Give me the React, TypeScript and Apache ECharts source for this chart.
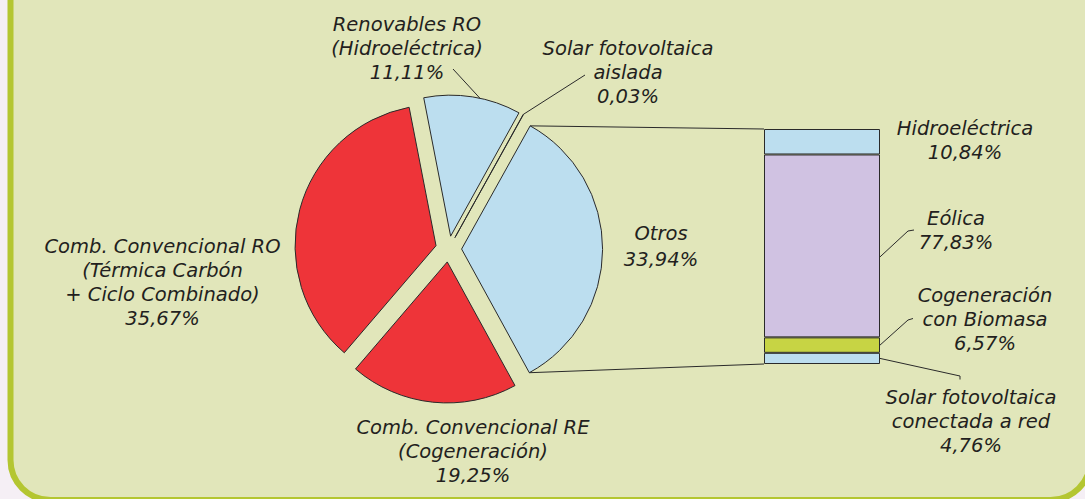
import React, { useEffect, useRef } from 'react';
import * as echarts from 'echarts';

// ---- data ----
const pieNames = [
  'Renovables RO\n(Hidroeléctrica)',
  'Solar fotovoltaica\naislada',
  'Otros',
  'Comb. Convencional RE\n(Cogeneración)',
  'Comb. Convencional RO\n(Térmica Carbón\n+ Ciclo Combinado)',
];
const pieValues = [11.11, 0.03, 33.94, 19.25, 35.67];

const barNames = [
  'Solar fotovoltaica\nconectada a red',
  'Cogeneración\ncon Biomasa',
  'Eólica',
  'Hidroeléctrica',
];
const barValues = [4.76, 6.57, 77.83, 10.84];

// ---- styles ----
const pieColors = ['#bcdeef', '#bcdeef', '#bcdeef', '#ee3439', '#ee3439'];
const barColors = ['#bcdeef', '#c7d444', '#d0c2e2', '#bcdeef'];
const TEXT = '#231f20';
const FONT = '"DejaVu Sans", "Open Sans", sans-serif';
const FS = 19.5;
const LH = 24;

// ---- layout ----
const PIE_CX = 448.6;
const PIE_CY = 249;
const PIE_R = 141;
const PIE_OFF = 13;
const START = 101;
const GRID = { left: 764, top: 129, width: 116, height: 235 };

// label anchors (center x, center y of first line, line height)
const pieLabelPos = [
  [407, 24, LH],
  [628, 48, LH],
  [661, 233, 26],
  [473, 427, LH],
  [162.5, 246, LH],
];
const barLabelPos = [
  [971, 397],
  [985, 295],
  [956, 218],
  [965, 128],
];

const fmt = (v: number) => v.toFixed(2).replace('.', ',') + '%';

export default function App() {
  const ref = useRef<HTMLDivElement>(null);
  useEffect(() => {
    const el = ref.current!;
    const chart = echarts.init(el, null, { renderer: 'svg' });
    const total = pieValues.reduce((a, b) => a + b, 0);

    chart.setOption({
      animation: false,
      backgroundColor: '#f5eff5',
      grid: { ...GRID },
      xAxis: { type: 'category', data: ['Otros'], show: false },
      yAxis: { type: 'value', min: 0, max: 100, show: false },
      series: [
        {
          type: 'pie',
          center: [PIE_CX, PIE_CY],
          radius: PIE_R,
          startAngle: START,
          clockwise: true,
          selectedMode: 'multiple',
          selectedOffset: PIE_OFF,
          avoidLabelOverlap: false,
          label: { show: false },
          labelLine: { show: false },
          emphasis: { disabled: true },
          select: { itemStyle: { borderColor: '#2a2a2a', borderWidth: 1 } },
          itemStyle: { borderColor: '#2a2a2a', borderWidth: 1 },
          data: pieValues.map((v, i) => ({
            name: pieNames[i],
            value: v,
            selected: true,
            itemStyle: { color: pieColors[i] },
            select: { itemStyle: { color: pieColors[i] } },
          })),
        },
        ...barValues.map((v, i) => ({
          type: 'bar',
          name: barNames[i],
          stack: 'otros',
          barWidth: '100%',
          data: [v],
          emphasis: { disabled: true },
          itemStyle: { color: barColors[i], borderColor: '#2a2a2a', borderWidth: 1 },
        })),
      ],
    });

    // pie geometry helpers
    const cum: number[] = [];
    let acc = 0;
    pieValues.forEach((v) => {
      cum.push(acc);
      acc += v;
    });
    const angOf = (f: number) => ((START - (360 * f) / total) * Math.PI) / 180;
    const slicePoint = (i: number, frac: number, r: number) => {
      const mid = angOf(cum[i] + pieValues[i] / 2);
      const a = angOf(cum[i] + pieValues[i] * frac);
      return [
        PIE_CX + PIE_OFF * Math.cos(mid) + r * Math.cos(a),
        PIE_CY - PIE_OFF * Math.sin(mid) - r * Math.sin(a),
      ];
    };
    const yPix = (v: number) => chart.convertToPixel({ yAxisIndex: 0 }, v) as number;
    const barLeft = GRID.left;
    const barRight = GRID.left + GRID.width;
    const bcum: number[] = [];
    let bacc = 0;
    barValues.forEach((v) => {
      bcum.push(bacc);
      bacc += v;
    });
    const barY = (i: number, frac: number) => yPix(bcum[i] + barValues[i] * frac);

    const lineStyle = { stroke: '#2a2a2a', lineWidth: 1, fill: null };
    const mkText = (text: string, x: number, y: number, lh: number) => ({
      type: 'text',
      z: 100,
      style: {
        text,
        x,
        y: y - lh / 2,
        align: 'center',
        verticalAlign: 'top',
        textAlign: 'center',
        textVerticalAlign: 'top',
        fontStyle: 'italic',
        fontSize: FS,
        fontFamily: FONT,
        lineHeight: lh,
        fill: TEXT,
      },
    });
    const texts: any[] = [];
    pieNames.forEach((n, i) => {
      const [x, y, lh] = pieLabelPos[i];
      texts.push(mkText(n + '\n' + fmt(pieValues[i]), x, y, lh));
    });
    barNames.forEach((n, i) => {
      const [x, y] = barLabelPos[i];
      texts.push(mkText(n + '\n' + fmt(barValues[i]), x, y, LH));
    });

    const otrosTop = slicePoint(2, 0, PIE_R);
    const otrosBot = slicePoint(2, 1, PIE_R);
    const renovPt = slicePoint(0, 0.575, PIE_R);
    const solarPt = slicePoint(1, 0.5, PIE_R);

    const lines: any[] = [
      { type: 'line', z: 50, shape: { x1: otrosTop[0], y1: otrosTop[1], x2: barLeft, y2: yPix(100) }, style: lineStyle },
      { type: 'line', z: 50, shape: { x1: otrosBot[0], y1: otrosBot[1], x2: barLeft, y2: yPix(0) }, style: lineStyle },
      { type: 'line', z: 50, shape: { x1: renovPt[0], y1: renovPt[1], x2: 453, y2: 69 }, style: lineStyle },
      { type: 'line', z: 50, shape: { x1: solarPt[0], y1: solarPt[1], x2: 585, y2: 75 }, style: lineStyle },
      { type: 'polyline', z: 50, shape: { points: [[barRight, barY(2, 0.44)], [908, 231], [914, 230]] }, style: lineStyle },
      { type: 'polyline', z: 50, shape: { points: [[barRight, barY(1, 0.5)], [908, 320], [913, 318.5]] }, style: lineStyle },
      { type: 'polyline', z: 50, shape: { points: [[barRight, barY(0, 0.5)], [960, 376], [960, 379.5]] }, style: lineStyle },
    ];

    chart.setOption({
      graphic: [
        {
          type: 'rect',
          z: 0,
          shape: { x: 10.5, y: -60, width: 1080, height: 560, r: 40 },
          style: { fill: '#e1e6ba', stroke: '#b4c631', lineWidth: 6 },
        },
        ...lines,
        ...texts,
      ],
    });

    return () => chart.dispose();
  }, []);
  return <div ref={ref} style={{ position: 'fixed', left: 0, top: 0, width: 1085, height: 499 }} />;
}
